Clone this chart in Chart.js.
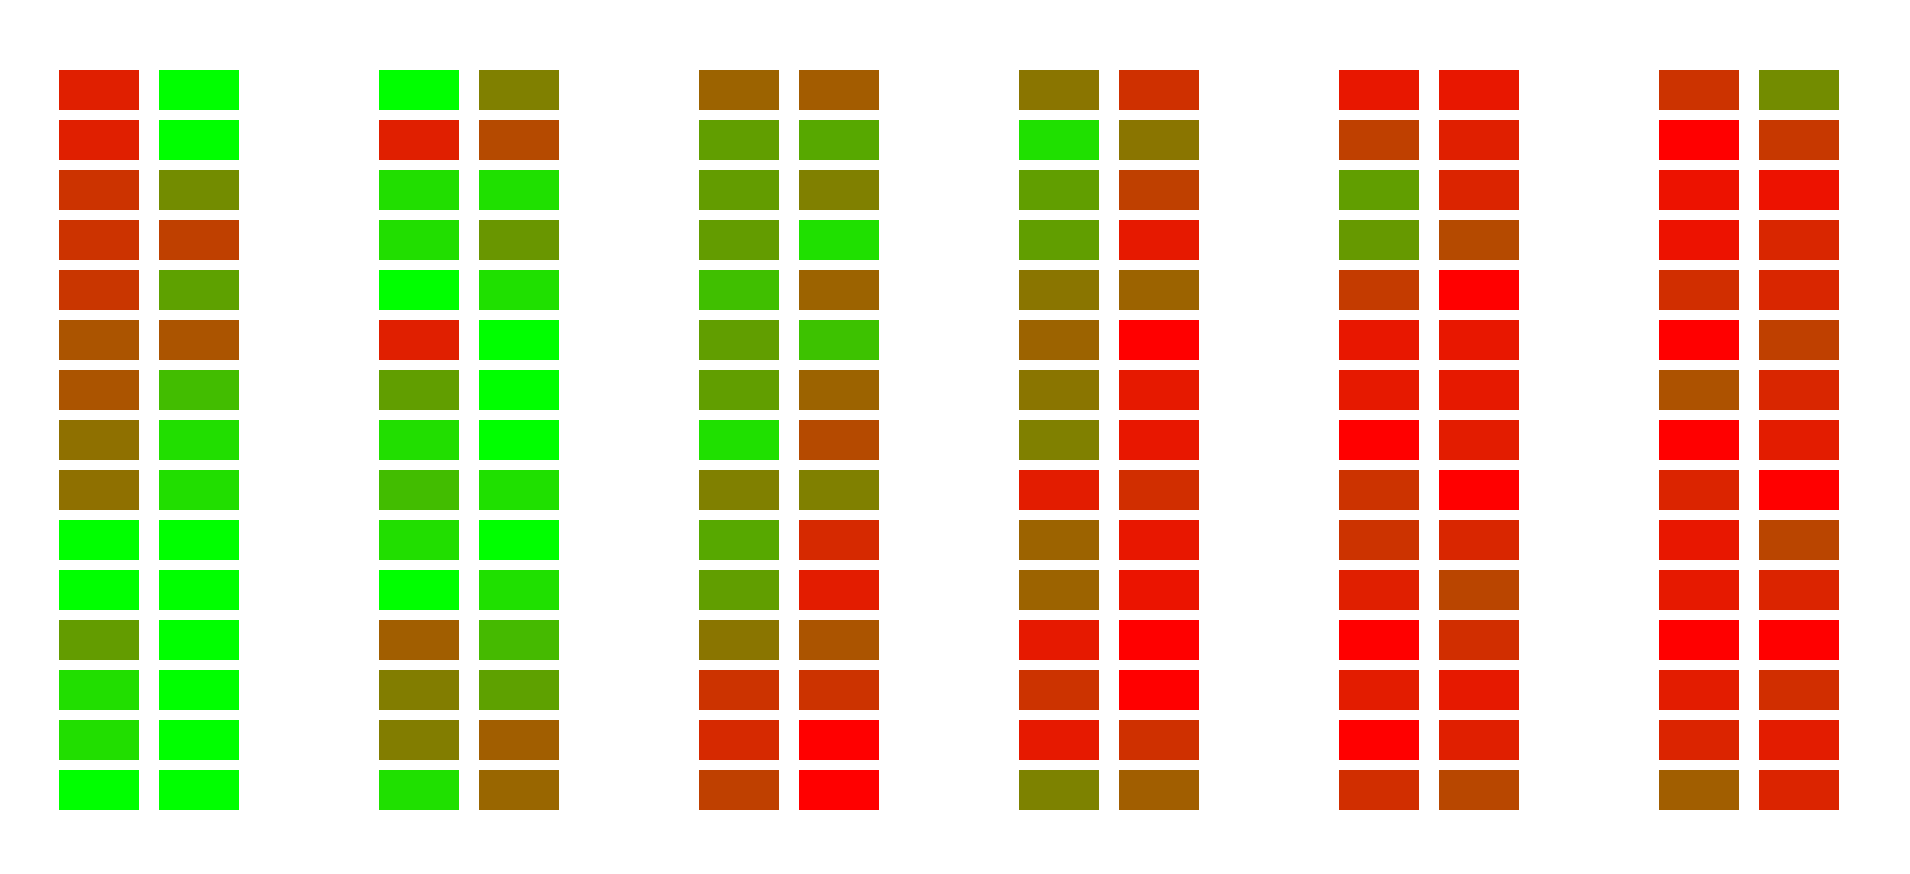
<!DOCTYPE html>
<html>
<head>
<meta charset="utf-8">
<title>Heat columns</title>
<script src="https://cdn.jsdelivr.net/npm/chart.js@4/dist/chart.umd.min.js"></script>
<style>
  html, body { margin: 0; padding: 0; background: #ffffff; overflow: hidden; }
  #wrap { width: 1910px; height: 874px; }
</style>
</head>
<body>
<div id="wrap"><canvas id="c" width="1910" height="874"></canvas></div>
<script>
// Categories (six groups, each with a left and a right column)
const groups = ['G1', 'G2', 'G3', 'G4', 'G5', 'G6'];
// Row labels, top to bottom
const rows = ['R1','R2','R3','R4','R5','R6','R7','R8','R9','R10','R11','R12','R13','R14','R15'];

// Cell values (0 = green, 100 = red), top row first
const g1Left  = [88, 88, 80, 80, 79, 67, 67, 56, 56, 0, 0, 39, 13, 13, 0];
const g1Right = [0, 0, 45, 75, 37, 67, 26, 13, 13, 0, 0, 0, 0, 0, 0];
const g2Left  = [0, 88, 13, 13, 0, 88, 38, 13, 26, 13, 0, 63, 51, 51, 12];
const g2Right = [50, 71, 12, 41, 12, 0, 0, 0, 12, 0, 12, 27, 37, 63, 60];
const g3Left  = [61, 38, 39, 39, 25, 38, 38, 12, 50, 34, 38, 54, 80, 84, 75];
const g3Right = [64, 34, 50, 12, 61, 24, 61, 71, 50, 84, 89, 67, 80, 100, 100];
const g4Left  = [54, 12, 38, 38, 54, 61, 54, 50, 89, 61, 61, 90, 80, 90, 49];
const g4Right = [81, 54, 75, 90, 61, 100, 90, 91, 82, 91, 92, 100, 100, 81, 63];
const g5Left  = [91, 75, 38, 40, 77, 91, 90, 100, 80, 80, 88, 100, 89, 100, 82];
const g5Right = [91, 88, 86, 71, 100, 91, 90, 89, 100, 85, 73, 82, 90, 88, 72];
const g6Left  = [80, 100, 93, 93, 82, 100, 68, 100, 86, 91, 90, 100, 89, 86, 63];
const g6Right = [45, 78, 93, 85, 85, 75, 85, 89, 100, 73, 86, 100, 82, 89, 86];

const leftCols  = [g1Left, g2Left, g3Left, g4Left, g5Left, g6Left];
const rightCols = [g1Right, g2Right, g3Right, g4Right, g5Right, g6Right];

function heatColor(v) {
  const t = Math.max(0, Math.min(100, v)) / 100;
  const r = Math.round(255 * t);
  const g = Math.round(255 * (1 - t));
  return 'rgb(' + r + ',' + g + ',0)';
}

const CELL_GAP = 0.1; // fraction of a row left blank above and below each cell

const datasets = [];
rows.forEach(function (label, r) {
  [['L', leftCols], ['R', rightCols]].forEach(function (pair) {
    const side = pair[0], cols = pair[1];
    datasets.push({
      label: label + side,
      stack: side,
      data: groups.map(function () { return [r + CELL_GAP, r + 1 - CELL_GAP]; }),
      backgroundColor: cols.map(function (col) { return heatColor(col[r]); }),
      borderWidth: 0,
      inflateAmount: 0,
      clip: false
    });
  });
});

new Chart(document.getElementById('c'), {
  type: 'bar',
  data: { labels: groups, datasets: datasets },
  options: {
    responsive: false,
    maintainAspectRatio: false,
    animation: false,
    events: [],
    categoryPercentage: 0.625,
    barPercentage: 0.8,
    layout: { padding: { left: 149, right: 161, top: 65, bottom: 59 } },
    plugins: { legend: { display: false }, tooltip: { enabled: false } },
    scales: {
      x: { display: false, offset: false },
      y: { display: false, stacked: false, reverse: true, min: 0, max: rows.length }
    }
  }
});
</script>
</body>
</html>
